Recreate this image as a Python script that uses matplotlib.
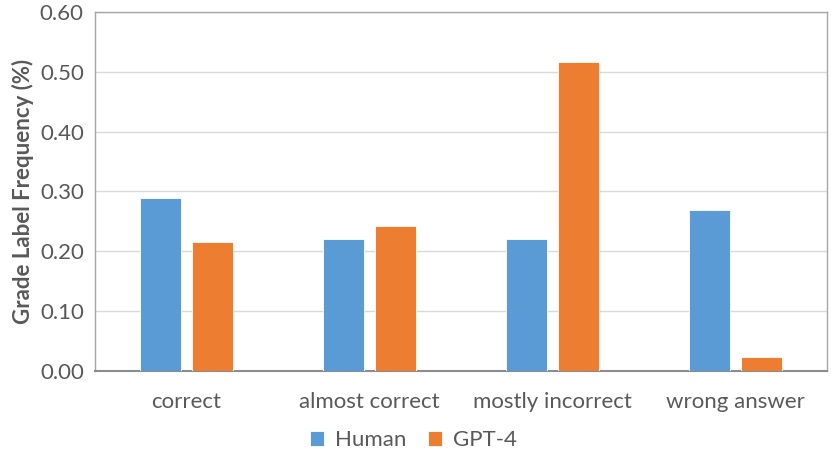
import numpy as np
import matplotlib

matplotlib.use("Agg")
import matplotlib.pyplot as plt

plt.rcParams["font.family"] = ["Lato", "DejaVu Sans"]

categories = ["correct", "almost correct", "mostly incorrect", "wrong answer"]
human = [0.289, 0.220, 0.221, 0.269]
gpt4 = [0.216, 0.242, 0.517, 0.023]
yticks = [0.0, 0.1, 0.2, 0.3, 0.4, 0.5, 0.6]

BLUE = "#5B9BD5"
ORANGE = "#ED7D31"
TXT = "#595959"
FS = 16

fig = plt.figure(figsize=(8.31, 4.54), dpi=100)
ax = fig.add_axes([0.1143, 0.1828, 0.881, 0.7908])

x = np.arange(len(categories))
w = 0.224
off = 0.142
ax.bar(x - off, human, w, color=BLUE, edgecolor="white", linewidth=0.6, label="Human", zorder=3)
ax.bar(x + off, gpt4, w, color=ORANGE, edgecolor="white", linewidth=0.6, label="GPT-4", zorder=3)

ax.set_xlim(-0.5, len(categories) - 0.5)
ax.set_ylim(0, 0.6)
ax.set_yticks(yticks)
ax.set_yticklabels([f"{v:.2f}" for v in yticks])
ax.set_xticks(x)
ax.set_xticklabels(categories)
ax.tick_params(axis="both", length=0, labelsize=FS, colors=TXT)
ax.tick_params(axis="x", pad=15)
ax.tick_params(axis="y", pad=8)
ax.grid(axis="y", color="#D9D9D9", lw=1.0, zorder=0)
for s in ax.spines.values():
    s.set_color("#A6A6A6")
    s.set_linewidth(1.0)
ax.spines["bottom"].set_color("#8C8C8C")
ax.spines["bottom"].set_linewidth(1.5)

ax.set_ylabel("Grade Label Frequency (%)", fontsize=FS, fontweight="bold", color=TXT, labelpad=4)

ax.legend(loc="center", bbox_to_anchor=(0.435, -0.193), ncol=2, frameon=False,
          fontsize=FS, labelcolor=TXT, handlelength=0.6, handleheight=0.6,
          handletextpad=0.5, columnspacing=1.0, borderpad=0.2)

fig.savefig("out.png", dpi=100)
